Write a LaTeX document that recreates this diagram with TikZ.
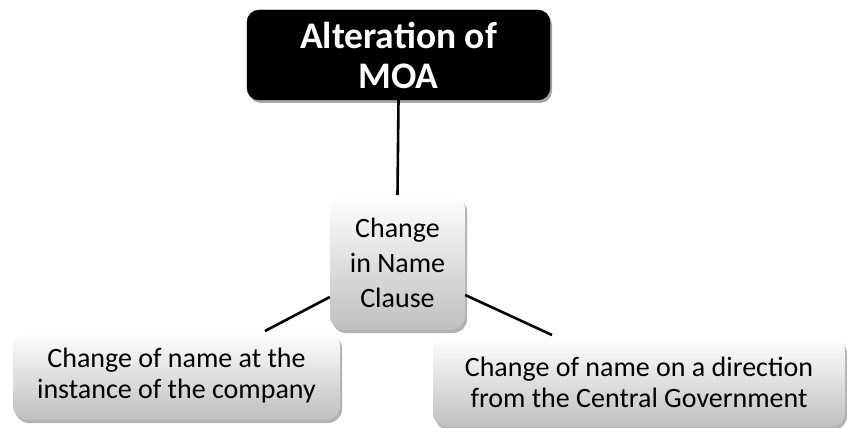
\documentclass[tikz,border=0pt]{standalone}
\usepackage{fontspec}
\setmainfont{Carlito}
\usetikzlibrary{shadows}
\begin{document}
\begin{tikzpicture}[x=1pt,y=-1pt,
  headbox/.style={rounded corners=12pt, fill=black, draw=black,
    drop shadow={shadow xshift=2pt, shadow yshift=-3pt, opacity=0.35, fill=black},
    text=white, font=\fontsize{37.5}{40}\selectfont\bfseries, align=center},
  softbox/.style={rounded corners=14pt, top color=white, bottom color=black!25,
    draw=none,
    drop shadow={shadow xshift=2pt, shadow yshift=-3pt, opacity=0.3, fill=black},
    text=black, align=center},
  link/.style={line width=2.6pt, black}]
\useasboundingbox (0,0) rectangle (847,428);
\fill[white] (0,0) rectangle (847,428);

\node[headbox, minimum width=303pt, minimum height=90pt] (top) at (398.5,55) {Alteration of\\MOA};
\node[softbox, minimum width=135pt, minimum height=135pt,
      font=\fontsize{28}{35}\selectfont] (mid) at (397.5,262.5) {Change\\in Name\\Clause};
\node[softbox, minimum width=327pt, minimum height=88pt,
      font=\fontsize{28}{31}\selectfont] (left) at (176.5,376) {Change of name at the\\instance of the company};
\node[softbox, minimum width=412pt, minimum height=90pt,
      font=\fontsize{28}{31}\selectfont] (right) at (639,382) {Change of name on a direction\\from the Central Government};

\coordinate (lend) at (265,331);
\coordinate (rend) at (552,335);
\draw[link] (top.south) -- (mid.north);
\draw[link] (mid.west |- 0,297) -- (lend);
\draw[link] (mid.east |- 0,295) -- (rend);
\end{tikzpicture}
\end{document}
